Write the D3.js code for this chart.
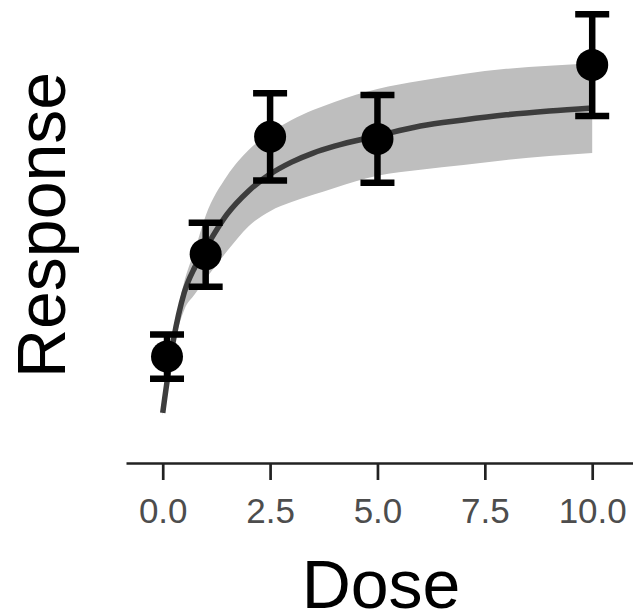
<!DOCTYPE html>
<html>
<head>
<meta charset="utf-8">
<script src="https://cdn.jsdelivr.net/npm/d3@7"></script>
<style>
  body { margin: 0; background: #fff; }
  svg { display: block; font-family: "Liberation Sans", Arial, sans-serif; }
</style>
</head>
<body>
<svg id="chart" width="633" height="613"></svg>
<script>
// Observed means with error bars
const doses = [0.1, 1, 2.5, 5, 10];
const means = [17.1, 40.9, 68.2, 67.7, 84.9];
const lows  = [11.9, 33.3, 58.0, 57.5, 73.0];
const highs = [22.2, 48.2, 78.3, 77.9, 96.7];

// Fitted curve with confidence band
const fitDose  = [0, 0.25, 0.5, 0.75, 1, 1.5, 2, 2.5, 3, 3.5, 4, 5, 6, 7, 8, 9, 10];
const fitMean  = [4.0, 20.9, 31.9, 37.9, 42.3, 50.2, 55.6, 59.5, 62.3, 64.4, 66.0, 68.4, 70.7, 72.1, 73.3, 74.2, 74.9];
const fitUpper = [4.7, 22.3, 34.4, 41.9, 49.8, 59.1, 65.1, 69.1, 72.1, 74.4, 76.3, 79.3, 81.2, 82.8, 84.0, 84.7, 85.3];
const fitLower = [3.3, 19.1, 27.9, 31.6, 35.1, 41.6, 47.4, 50.9, 53.0, 54.7, 56.3, 59.1, 60.5, 61.6, 62.8, 63.7, 64.4];

const xTicks = [0, 2.5, 5, 7.5, 10];

const svg = d3.select("#chart");

const x = d3.scaleLinear()
    .domain([-0.855, 10.95])
    .range([126, 633]);

const y = d3.scaleLinear()
    .domain([0, 100])
    .range([430, 0]);

const fit = fitDose.map((d, i) => ({ dose: d, mean: fitMean[i], lo: fitLower[i], hi: fitUpper[i] }));
const obs = doses.map((d, i) => ({ dose: d, mean: means[i], lo: lows[i], hi: highs[i] }));

// confidence band
svg.append("path")
    .datum(fit)
    .attr("fill", "#bebebe")
    .attr("d", d3.area()
        .x(d => x(d.dose))
        .y0(d => y(d.lo))
        .y1(d => y(d.hi))
        .curve(d3.curveMonotoneX));

// fitted line
svg.append("path")
    .datum(fit)
    .attr("fill", "none")
    .attr("stroke", "#3d3d3d")
    .attr("stroke-width", 5.5)
    .attr("d", d3.line()
        .x(d => x(d.dose))
        .y(d => y(d.mean))
        .curve(d3.curveMonotoneX));

// error bars
const capHalf = 17;
const bars = svg.append("g")
    .attr("stroke", "#000")
    .attr("stroke-width", 6.5);

bars.selectAll("line.stem")
    .data(obs)
    .enter().append("line")
    .attr("class", "stem")
    .attr("x1", d => x(d.dose)).attr("x2", d => x(d.dose))
    .attr("y1", d => y(d.lo)).attr("y2", d => y(d.hi));

bars.selectAll("line.cap-hi")
    .data(obs)
    .enter().append("line")
    .attr("class", "cap-hi")
    .attr("x1", d => x(d.dose) - capHalf).attr("x2", d => x(d.dose) + capHalf)
    .attr("y1", d => y(d.hi)).attr("y2", d => y(d.hi));

bars.selectAll("line.cap-lo")
    .data(obs)
    .enter().append("line")
    .attr("class", "cap-lo")
    .attr("x1", d => x(d.dose) - capHalf).attr("x2", d => x(d.dose) + capHalf)
    .attr("y1", d => y(d.lo)).attr("y2", d => y(d.lo));

// points
svg.selectAll("circle")
    .data(obs)
    .enter().append("circle")
    .attr("cx", d => x(d.dose))
    .attr("cy", d => y(d.mean))
    .attr("r", 16)
    .attr("fill", "#000");

// x axis
const xAxis = d3.axisBottom(x)
    .tickValues(xTicks)
    .tickFormat(d3.format(".1f"))
    .tickSize(17)
    .tickSizeOuter(0)
    .tickPadding(18);

const gx = svg.append("g")
    .attr("transform", "translate(0,463)")
    .call(xAxis);

gx.select(".domain")
    .attr("stroke", "#222")
    .attr("stroke-width", 2.7);
gx.selectAll(".tick line")
    .attr("stroke", "#222")
    .attr("stroke-width", 2.7);
gx.selectAll(".tick text")
    .attr("fill", "#4d4d4d")
    .style("font-size", "35px")
    .style("font-family", "'Liberation Sans', Arial, sans-serif");

// axis titles
svg.append("text")
    .attr("x", 381)
    .attr("y", 608)
    .attr("text-anchor", "middle")
    .style("font-size", "68px")
    .attr("fill", "#000")
    .text("Dose");

svg.append("text")
    .attr("transform", "translate(65,225) rotate(-90)")
    .attr("text-anchor", "middle")
    .style("font-size", "68px")
    .attr("fill", "#000")
    .text("Response");
</script>
</body>
</html>
